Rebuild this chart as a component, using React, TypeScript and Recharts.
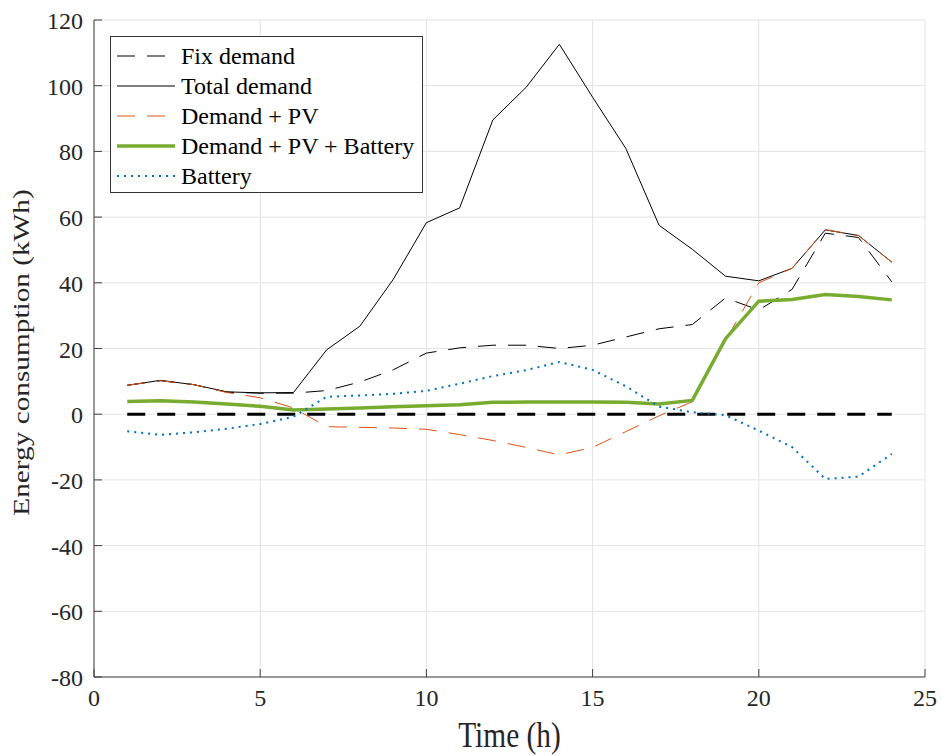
import { LineChart, Line, XAxis, YAxis, CartesianGrid, Legend, Label } from 'recharts';

const hours = [1, 2, 3, 4, 5, 6, 7, 8, 9, 10, 11, 12, 13, 14, 15, 16, 17, 18, 19, 20, 21, 22, 23, 24];
const fixDemand = [8.8, 10.2, 9.0, 6.7, 6.4, 6.4, 7.2, 9.8, 13.5, 18.6, 20.2, 21.0, 21.0, 20.0, 21.0, 23.5, 26.0, 27.3, 35.4, 31.7, 38.0, 55.1, 53.8, 40.3];
const totalDemand = [8.8, 10.3, 9.0, 6.8, 6.5, 6.6, 19.6, 26.8, 41.0, 58.3, 62.8, 89.6, 99.5, 112.6, 96.5, 80.9, 57.5, 50.2, 42.0, 40.6, 44.4, 56.1, 54.4, 46.3];
const demandPv = [8.8, 10.2, 9.0, 6.6, 5.0, 1.9, -3.8, -4.0, -4.2, -4.6, -6.2, -8.0, -10.1, -12.4, -10.1, -5.3, -0.5, 3.8, 22.5, 40.0, 44.4, 56.2, 54.4, 46.3];
const demandPvBattery = [3.9, 4.1, 3.7, 3.1, 2.4, 1.3, 1.6, 1.9, 2.3, 2.6, 2.9, 3.6, 3.7, 3.7, 3.7, 3.6, 3.1, 4.2, 23.0, 34.4, 34.9, 36.4, 35.8, 34.8];
const battery = [-5.2, -6.3, -5.5, -4.4, -3.0, -0.8, 5.3, 5.7, 6.2, 7.1, 9.3, 11.6, 13.4, 15.9, 13.5, 8.5, 2.3, 0.6, -0.3, -5.0, -10.0, -19.7, -19.0, -12.1];
const zeroLine = [0, 0, 0, 0, 0, 0, 0, 0, 0, 0, 0, 0, 0, 0, 0, 0, 0, 0, 0, 0, 0, 0, 0, 0];

const xTicks = [0, 5, 10, 15, 20, 25];
const yTicks = [-80, -60, -40, -20, 0, 20, 40, 60, 80, 100, 120];

const series = [
  { key: 'fix', name: 'Fix demand', color: '#000000', width: 1, dash: '18 12' },
  { key: 'total', name: 'Total demand', color: '#000000', width: 1, dash: undefined },
  { key: 'pv', name: 'Demand + PV', color: '#D95319', width: 1, dash: '18 12' },
  { key: 'pvb', name: 'Demand + PV + Battery', color: '#77AC30', width: 3.5, dash: undefined },
  { key: 'bat', name: 'Battery', color: '#0072BD', width: 2, dash: '2 5' },
];

const data = hours.map((h, i) => ({
  hour: h,
  fix: fixDemand[i],
  total: totalDemand[i],
  pv: demandPv[i],
  pvb: demandPvBattery[i],
  bat: battery[i],
  zero: zeroLine[i],
}));

const FONT = '"Liberation Serif", "Times New Roman", serif';
const AXIS = '#404040';
const textStyle = { fontFamily: FONT };

const BottomTick = (props: any) => {
  const { x, y, payload } = props;
  return (
    <g>
      <line x1={x} y1={y} x2={x} y2={y - 8} stroke={AXIS} />
      <text x={x} y={y + 29} textAnchor="middle" fontSize={24} style={textStyle} fill="#262626">
        {payload.value}
      </text>
    </g>
  );
};

const TopTick = (props: any) => {
  const { x, y } = props;
  return <line x1={x} y1={y} x2={x} y2={y + 8} stroke={AXIS} />;
};

const LeftTick = (props: any) => {
  const { x, y, payload } = props;
  return (
    <g>
      <line x1={x} y1={y} x2={x + 8} y2={y} stroke={AXIS} />
      <text x={x - 11} y={y + 9} textAnchor="end" fontSize={24} style={textStyle} fill="#262626">
        {payload.value}
      </text>
    </g>
  );
};

const RightTick = (props: any) => {
  const { x, y } = props;
  return <line x1={x} y1={y} x2={x - 8} y2={y} stroke={AXIS} />;
};

// the axis titles in the source are drawn taller than they are wide
const XLabel = (props: any) => {
  const { viewBox } = props;
  const cx = viewBox.x + viewBox.width / 2;
  const by = viewBox.y + 70;
  return (
    <text
      transform={`translate(${cx}, ${by}) scale(0.84, 1)`}
      textAnchor="middle"
      fontSize={35}
      style={textStyle}
      fill="#262626"
    >
      Time (h)
    </text>
  );
};

const YLabel = (props: any) => {
  const { viewBox } = props;
  const bx = viewBox.x + 29;
  const cy = viewBox.y + viewBox.height / 2 + 4;
  return (
    <text
      transform={`translate(${bx}, ${cy}) rotate(-90) scale(1.22, 1)`}
      textAnchor="middle"
      fontSize={24}
      style={textStyle}
      fill="#262626"
    >
      Energy consumption (kWh)
    </text>
  );
};

const LegendBox = () => (
  <div
    style={{
      border: '1px solid #333',
      background: '#fff',
      padding: '4px 0 1px 6px',
      fontFamily: FONT,
      fontSize: 24,
      color: '#000',
      width: 313,
      boxSizing: 'border-box',
      whiteSpace: 'nowrap',
    }}
  >
    {series.map((s) => (
      <div key={s.key} style={{ display: 'flex', alignItems: 'center', height: 30 }}>
        <svg width={58} height={12} style={{ marginRight: 6, flexShrink: 0 }}>
          <line x1={0} y1={6} x2={58} y2={6} stroke={s.color} strokeWidth={s.width} strokeDasharray={s.dash} />
        </svg>
        <span>{s.name}</span>
      </div>
    ))}
  </div>
);

export default function App() {
  return (
    <div style={{ position: 'absolute', left: 0, top: 0, background: '#fff' }}>
      <LineChart width={943} height={756} data={data} margin={{ top: 20, right: 18, left: 0, bottom: 39 }}>
        <CartesianGrid xAxisId="b" yAxisId="l" stroke="#e3e3e3" strokeWidth={1} />
        <XAxis
          xAxisId="b"
          dataKey="hour"
          type="number"
          domain={[0, 25]}
          ticks={xTicks}
          height={40}
          tickSize={0}
          tickMargin={0}
          tickLine={false}
          axisLine={{ stroke: AXIS }}
          tick={<BottomTick />}
          interval={0}
        >
          <Label content={<XLabel />} />
        </XAxis>
        <XAxis
          xAxisId="t"
          orientation="top"
          dataKey="hour"
          type="number"
          domain={[0, 25]}
          ticks={xTicks}
          height={0}
          tickSize={0}
          tickMargin={0}
          tickLine={false}
          axisLine={{ stroke: AXIS }}
          tick={<TopTick />}
          interval={0}
        />
        <YAxis
          yAxisId="l"
          type="number"
          domain={[-80, 120]}
          ticks={yTicks}
          width={94}
          tickSize={0}
          tickMargin={0}
          tickLine={false}
          axisLine={{ stroke: AXIS }}
          tick={<LeftTick />}
          interval={0}
        >
          <Label content={<YLabel />} />
        </YAxis>
        <YAxis
          yAxisId="r"
          orientation="right"
          type="number"
          domain={[-80, 120]}
          ticks={yTicks}
          width={0}
          tickSize={0}
          tickMargin={0}
          tickLine={false}
          axisLine={{ stroke: AXIS }}
          tick={<RightTick />}
          interval={0}
        />
        <Legend
          layout="vertical"
          align="center"
          verticalAlign="middle"
          content={<LegendBox />}
          wrapperStyle={{ left: 110, top: 36, width: 'auto', height: 'auto' }}
        />
        <Line
          xAxisId="b"
          yAxisId="l"
          dataKey="zero"
          legendType="none"
          stroke="#000"
          strokeWidth={3}
          strokeDasharray="18 12"
          dot={false}
          isAnimationActive={false}
        />
        {series.map((s) => (
          <Line
            key={s.key}
            xAxisId="b"
            yAxisId="l"
            type="linear"
            dataKey={s.key}
            name={s.name}
            stroke={s.color}
            strokeWidth={s.width}
            strokeDasharray={s.dash}
            dot={false}
            isAnimationActive={false}
          />
        ))}
      </LineChart>
    </div>
  );
}
